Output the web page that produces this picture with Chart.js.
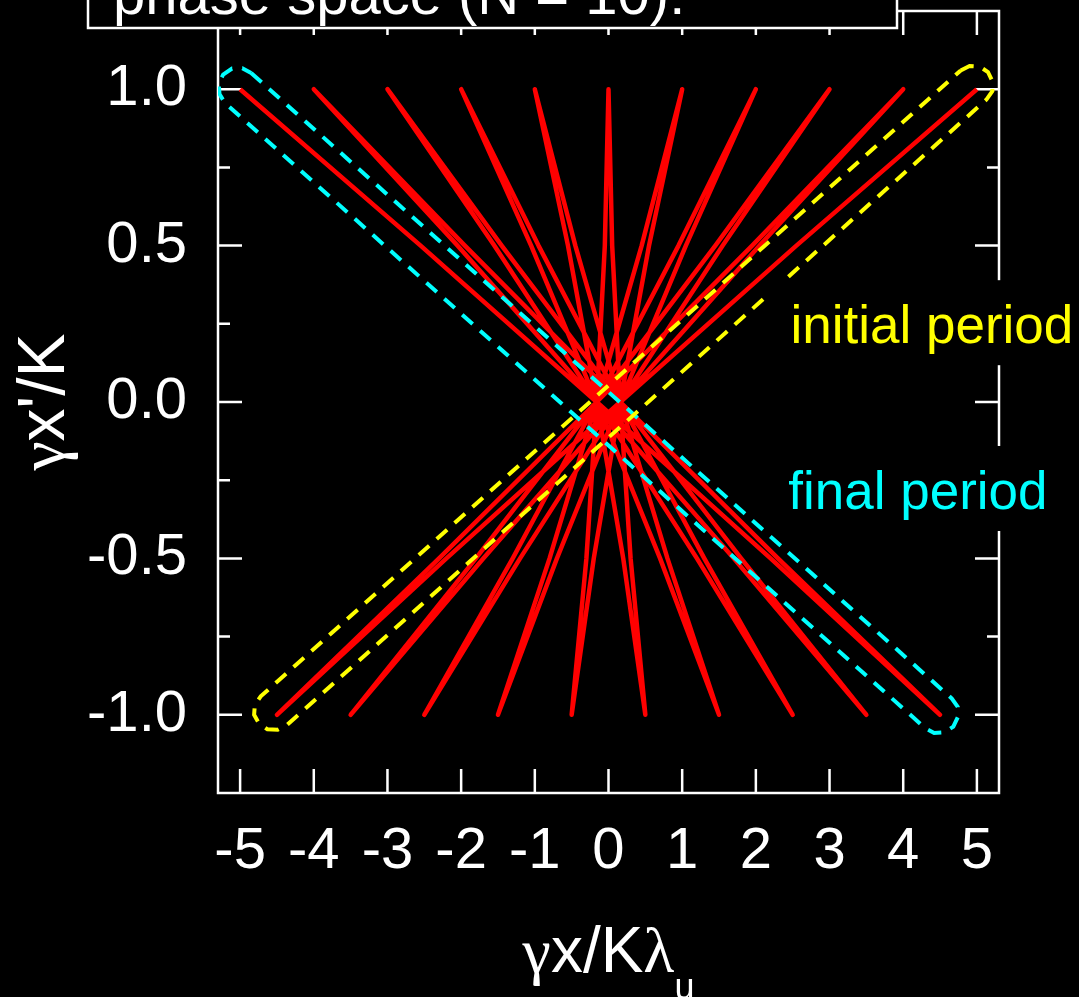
<!DOCTYPE html>
<html><head><meta charset="utf-8">
<script src="https://cdn.jsdelivr.net/npm/chart.js@4/dist/chart.umd.min.js"></script>
<style>html,body{margin:0;padding:0;background:#000;overflow:hidden}#wrap{width:1079px;height:997px;position:relative}</style>
</head><body><div id="wrap"><canvas id="c"></canvas></div>
<script>
// ---- tick labels ----
const xTicks = [-5, -4, -3, -2, -1, 0, 1, 2, 3, 4, 5];
const yTicks = [-1.0, -0.5, 0.0, 0.5, 1.0];
const yMinorTicks = [-0.75, -0.25, 0.25, 0.75];

// ---- electron trajectory in phase space (10 periods) ----
const trajX = [
  5, 2.55, 0.16, -2.20, -4.5, -2.30, -0.16, 1.95,
  4, 2.05, 0.16, -1.70, -3.5, -1.80, -0.16, 1.45,
  3, 1.55, 0.16, -1.20, -2.5, -1.30, -0.16, 0.95,
  2, 1.05, 0.16, -0.70, -1.5, -0.80, -0.16, 0.45,
  1, 0.55, 0.16, -0.20, -0.5, -0.30, -0.16, -0.05,
  0, 0.05, 0.16, 0.30, 0.5, 0.20, -0.16, -0.55,
  -1, -0.45, 0.16, 0.80, 1.5, 0.70, -0.16, -1.05,
  -2, -0.95, 0.16, 1.30, 2.5, 1.20, -0.16, -1.55,
  -3, -1.45, 0.16, 1.80, 3.5, 1.70, -0.16, -2.05,
  -4, -1.95, 0.16, 2.30, 4.5, 2.20, -0.16, -2.55,
  -5
];
const trajY = [
  1, 0.5, 0, -0.5, -1, -0.5, 0, 0.5,
  1, 0.5, 0, -0.5, -1, -0.5, 0, 0.5,
  1, 0.5, 0, -0.5, -1, -0.5, 0, 0.5,
  1, 0.5, 0, -0.5, -1, -0.5, 0, 0.5,
  1, 0.5, 0, -0.5, -1, -0.5, 0, 0.5,
  1, 0.5, 0, -0.5, -1, -0.5, 0, 0.5,
  1, 0.5, 0, -0.5, -1, -0.5, 0, 0.5,
  1, 0.5, 0, -0.5, -1, -0.5, 0, 0.5,
  1, 0.5, 0, -0.5, -1, -0.5, 0, 0.5,
  1, 0.5, 0, -0.5, -1, -0.5, 0, 0.5,
  1
];

// ---- "initial period" envelope (yellow) ----
const initX = [4.78, 4.90, 5.04, 5.15, 5.21, 5.21, 5.13, -4.37, -4.49, -4.63, -4.74, -4.81, -4.80, -4.72, 4.78];
const initY = [1.060, 1.074, 1.072, 1.055, 1.026, 0.994, 0.967, -1.034, -1.048, -1.046, -1.029, -1.000, -0.968, -0.941, 1.060];

// ---- "final period" envelope (cyan) ----
const finalX = [-4.85, 4.66, 4.74, 4.74, 4.68, 4.56, 4.42, 4.30, -5.21, -5.28, -5.29, -5.23, -5.11, -4.97, -4.85];
const finalY = [1.052, -0.948, -0.975, -1.008, -1.038, -1.056, -1.058, -1.043, 0.957, 0.985, 1.018, 1.047, 1.066, 1.067, 1.052];

// ---- texts ----
const chartTitle = 'phase space (N = 10):';
const initLabel = 'initial period';
const finalLabel = 'final period';
const initLabelPos = [2.47, 0.188];
const finalLabelPos = [2.44, -0.342];

const SANS = '"Liberation Sans", Arial, sans-serif';
const SERIF = '"Liberation Serif", "DejaVu Serif", serif';
const zip = (xs, ys) => xs.map((v, i) => ({x: v, y: ys[i]}));

const MAJ = 24, MIN = 12;

const framePlugin = {
  id: 'framePlugin',
  beforeDraw(chart) {
    const c = chart.ctx;
    c.save(); c.fillStyle = '#000'; c.fillRect(0, 0, chart.width, chart.height); c.restore();
  },
  beforeDatasetsDraw(chart) {
    const {ctx, chartArea: a, scales: {x, y}} = chart;
    ctx.save();
    ctx.strokeStyle = '#fff'; ctx.lineWidth = 2.5;
    ctx.strokeRect(a.left, a.top, a.right - a.left, a.bottom - a.top);
    ctx.beginPath();
    xTicks.forEach(v => {
      const p = x.getPixelForValue(v);
      ctx.moveTo(p, a.bottom); ctx.lineTo(p, a.bottom - MAJ);
      ctx.moveTo(p, a.top); ctx.lineTo(p, a.top + MAJ);
    });
    yTicks.forEach(v => {
      const p = y.getPixelForValue(v);
      ctx.moveTo(a.left, p); ctx.lineTo(a.left + MAJ, p);
      ctx.moveTo(a.right, p); ctx.lineTo(a.right - MAJ, p);
    });
    yMinorTicks.forEach(v => {
      const p = y.getPixelForValue(v);
      ctx.moveTo(a.left, p); ctx.lineTo(a.left + MIN, p);
      ctx.moveTo(a.right, p); ctx.lineTo(a.right - MIN, p);
    });
    ctx.stroke();
    ctx.restore();
  },
  afterDatasetsDraw(chart) {
    const {ctx, chartArea: a, scales: {x, y}} = chart;
    ctx.save();
    ctx.font = '53px ' + SANS;
    ctx.textBaseline = 'alphabetic';
    ctx.textAlign = 'left';
    const drawLbl = (txt, pos, col) => {
      const px = x.getPixelForValue(pos[0]), py = y.getPixelForValue(pos[1]);
      ctx.fillStyle = '#000';
      ctx.fillRect(px - 22, py - 63, chart.width - (px - 22), 85);
      ctx.fillStyle = col;
      ctx.fillText(txt, px, py);
    };
    drawLbl(initLabel, initLabelPos, '#ffff00');
    drawLbl(finalLabel, finalLabelPos, '#00ffff');

    // title box
    ctx.fillStyle = '#000';
    ctx.fillRect(88, -20, 809, 48);
    ctx.strokeStyle = '#fff'; ctx.lineWidth = 2.5;
    ctx.strokeRect(88, -20, 809, 48);
    ctx.fillStyle = '#fff';
    ctx.font = '58px ' + SANS;
    ctx.fillText(chartTitle, 113, 14);

    // x axis title: γx/Kλu
    const parts = [
      ['\u03b3', '64px ' + SERIF, 0],
      ['x/K', '64px ' + SANS, 0],
      ['\u03bb', '64px ' + SERIF, 0],
      ['u', '36px ' + SANS, 27]
    ];
    let tot = 0;
    parts.forEach(p => { ctx.font = p[1]; tot += ctx.measureText(p[0]).width; });
    let cx = (a.left + a.right) / 2 - tot / 2;
    parts.forEach(p => { ctx.font = p[1]; ctx.fillText(p[0], cx, 972 + p[2]); cx += ctx.measureText(p[0]).width; });

    // y axis title: γx'/K
    ctx.save();
    ctx.translate(64, (a.top + a.bottom) / 2);
    ctx.rotate(-Math.PI / 2);
    const yparts = [['\u03b3', '66px ' + SERIF], ["x'/K", '66px ' + SANS]];
    let t2 = 0;
    yparts.forEach(p => { ctx.font = p[1]; t2 += ctx.measureText(p[0]).width; });
    let cy = -t2 / 2;
    yparts.forEach(p => { ctx.font = p[1]; ctx.fillText(p[0], cy, 0); cy += ctx.measureText(p[0]).width; });
    ctx.restore();
    ctx.restore();
  }
};

new Chart(document.getElementById('c'), {
  type: 'scatter',
  data: {
    datasets: [
      { label: 'initial period', data: zip(initX, initY), showLine: true, borderColor: '#ffff00',
        borderWidth: 4, borderDash: [14, 10], pointRadius: 0, fill: false, order: 0 },
      { label: 'final period', data: zip(finalX, finalY), showLine: true, borderColor: '#00ffff',
        borderWidth: 4, borderDash: [14, 10], pointRadius: 0, fill: false, order: 1 },
      { label: 'trajectory', data: zip(trajX, trajY), showLine: true, borderColor: '#ff0000',
        borderWidth: 4.5, borderJoinStyle: 'round', borderCapStyle: 'butt', pointRadius: 0, fill: false, order: 2 }
    ]
  },
  options: {
    responsive: true, maintainAspectRatio: false, animation: false,
    layout: { padding: { left: 0, right: 80, top: 11, bottom: 0 } },
    plugins: { legend: { display: false }, tooltip: { enabled: false }, title: { display: false } },
    scales: {
      x: {
        type: 'linear', min: -5.3, max: 5.3,
        grid: { display: false }, border: { display: false },
        afterBuildTicks: s => { s.ticks = xTicks.map(v => ({value: v})); },
        afterFit: s => { s.height = 204; s.paddingLeft = 0; s.paddingRight = 0; },
        ticks: { color: '#fff', font: { family: SANS, size: 58 }, padding: 16, autoSkip: false, maxRotation: 0,
                 callback: v => String(v) }
      },
      y: {
        type: 'linear', min: -1.25, max: 1.25,
        grid: { display: false }, border: { display: false },
        afterBuildTicks: s => { s.ticks = yTicks.map(v => ({value: v})); },
        afterFit: s => { s.width = 218; s.paddingTop = 0; s.paddingBottom = 0; },
        ticks: { color: '#fff', font: { family: SANS, size: 58 }, padding: 23,
                 callback: v => Number(v).toFixed(1) }
      }
    }
  },
  plugins: [framePlugin]
});
</script></body></html>
